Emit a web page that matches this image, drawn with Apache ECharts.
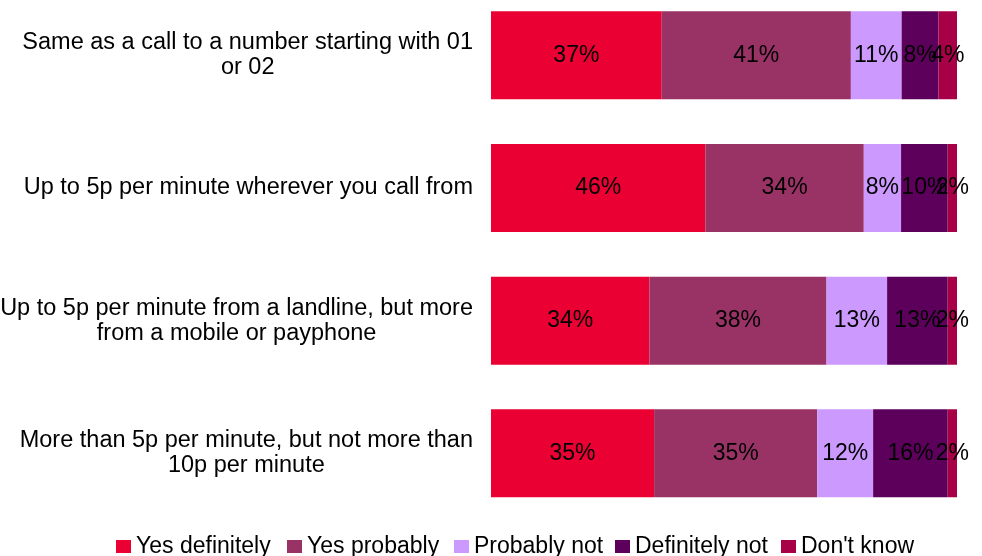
<!DOCTYPE html>
<html>
<head>
<meta charset="utf-8">
<title>Call charges – stacked responses</title>
<script src="https://cdn.jsdelivr.net/npm/echarts@6/dist/echarts.min.js"></script>
<style>
  html, body { margin: 0; padding: 0; background: #ffffff; }
  #chart { width: 982px; height: 556px; }
</style>
</head>
<body>
<div id="chart"></div>
<script>
// Answer options (stack order, left to right)
const seriesNames = ['Yes definitely', 'Yes probably', 'Probably not', 'Definitely not', "Don't know"];

// Pricing statements, top to bottom
const categories = [
  'Same as a call to a number starting with 01\nor 02',
  'Up to 5p per minute wherever you call from',
  'Up to 5p per minute from a landline, but more\nfrom a mobile or payphone',
  'More than 5p per minute, but not more than\n10p per minute'
];

// Percentages per answer, one entry per statement
const yesDefinitely  = [37, 46, 34, 35];
const yesProbably    = [41, 34, 38, 35];
const probablyNot    = [11, 8, 13, 12];
const definitelyNot  = [8, 10, 13, 16];
const dontKnow       = [4, 2, 2, 2];

const seriesValues = [yesDefinitely, yesProbably, probablyNot, definitelyNot, dontKnow];
const seriesColors = ['#ea0033', '#993366', '#cc99ff', '#5c005c', '#a80046'];

// Each bar is a 100% stack: segment length is the share of the row total
const rowTotals = categories.map((_, i) =>
  seriesValues.reduce((s, arr) => s + arr[i], 0));

const FONT = "'Liberation Sans', Arial, sans-serif";

const series = seriesNames.map((name, si) => ({
  name: name,
  type: 'bar',
  stack: 'total',
  barWidth: 88,
  clip: false,
  itemStyle: { color: seriesColors[si] },
  label: {
    show: true,
    position: 'inside',
    color: '#000000',
    fontFamily: FONT,
    fontSize: 23,
    formatter: p => seriesValues[p.seriesIndex][p.dataIndex] + '%'
  },
  emphasis: { disabled: true },
  data: seriesValues[si].map((v, i) => v / rowTotals[i] * 100)
}));

// Legend entries are laid out one by one along the bottom row
const legendLeft = [116, 287, 454, 615, 781];
const legends = seriesNames.map((name, i) => ({
  data: [name],
  left: legendLeft[i],
  top: 535,
  padding: 0,
  icon: 'rect',
  itemWidth: 15,
  itemHeight: 13,
  textStyle: { color: '#000000', fontFamily: FONT, fontSize: 23 },
  selectedMode: false
}));

const chart = echarts.init(document.getElementById('chart'), null, { renderer: 'canvas' });

chart.setOption({
  animation: false,
  backgroundColor: '#ffffff',
  // rows sit on the category ticks, first and last tick at the grid edges
  grid: {
    left: 491, width: 466, top: 55.3, height: 398,
    containLabel: false,
    outerBoundsMode: 'none'
  },
  xAxis: {
    type: 'value',
    min: 0,
    max: 100,
    show: false
  },
  yAxis: {
    type: 'category',
    data: categories,
    inverse: true,
    boundaryGap: false,
    axisLine: { show: false },
    axisTick: { show: false },
    splitLine: { show: false },
    axisLabel: {
      margin: 18,
      align: 'right',
      color: '#000000',
      fontFamily: FONT,
      fontSize: 23.5,
      // each line centred inside the right-aligned label block
      formatter: v => v.split('\n').map(line => '{c|' + line + '}').join('\n'),
      rich: {
        c: { align: 'center', color: '#000000', fontFamily: FONT, fontSize: 23.5, lineHeight: 25 }
      }
    }
  },
  legend: legends,
  series: series
});
</script>
</body>
</html>
